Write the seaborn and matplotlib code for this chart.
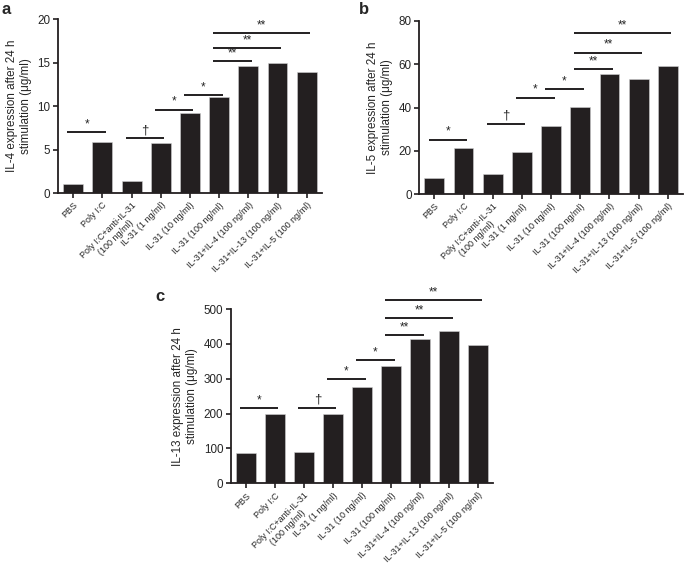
import matplotlib
matplotlib.use("Agg")
import matplotlib.pyplot as plt
import seaborn as sns
import pandas as pd

sns.set_style("ticks")
plt.rcParams['font.family'] = ['Liberation Sans', 'DejaVu Sans']

categories = ["PBS", "Poly I:C", "Poly I:C+anti-IL-31\n(100 ng/ml)", "IL-31 (1 ng/ml)",
              "IL-31 (10 ng/ml)", "IL-31 (100 ng/ml)", "IL-31+IL-4 (100 ng/ml)",
              "IL-31+IL-13 (100 ng/ml)", "IL-31+IL-5 (100 ng/ml)"]

il4_values = [1.0, 5.9, 1.4, 5.8, 9.2, 11.0, 14.6, 15.0, 13.9]
il5_values = [7.5, 21.3, 9.5, 19.5, 31.5, 40.2, 55.3, 53.0, 59.1]
il13_values = [86, 200, 90, 198, 277, 338, 415, 438, 398]

# comparisons: (bar i, bar j, label)
comparisons = [(0, 1, "*"), (2, 3, "\u2020"), (3, 4, "*"), (4, 5, "*"),
               (5, 6, "**"), (5, 7, "**"), (5, 8, "**")]
il4_sig_heights = [7.0, 6.3, 9.6, 11.3, 15.2, 16.7, 18.4]
il5_sig_heights = [25.2, 32.6, 44.6, 48.7, 57.9, 65.4, 74.3]
il13_sig_heights = [217, 217, 300, 353, 426, 473, 526]

il4_yticks = [0, 5, 10, 15, 20]
il5_yticks = [0, 20, 40, 60, 80]
il13_yticks = [0, 100, 200, 300, 400, 500]

ylabels = ["IL-4 expression after 24 h\nstimulation (\u03bcg/ml)",
           "IL-5 expression after 24 h\nstimulation (\u03bcg/ml)",
           "IL-13 expression after 24 h\nstimulation (\u03bcg/ml)"]

BAR = "#231f20"

fig = plt.figure(figsize=(6.85, 5.66), dpi=100)
ax_a = fig.add_axes([0.0847, 0.659, 0.3853, 0.307])
ax_b = fig.add_axes([0.612, 0.657, 0.385, 0.306])
ax_c = fig.add_axes([0.337, 0.146, 0.383, 0.308])

panels = [
    (ax_a, il4_values, il4_sig_heights, il4_yticks, ylabels[0], "a", (2 / 685, 1 - 10 / 566)),
    (ax_b, il5_values, il5_sig_heights, il5_yticks, ylabels[1], "b", (359 / 685, 1 - 10 / 566)),
    (ax_c, il13_values, il13_sig_heights, il13_yticks, ylabels[2], "c", (155 / 685, 1 - 296 / 566)),
]

for ax, vals, heights, yticks, ylab, letter, lpos in panels:
    df = pd.DataFrame({"cond": categories, "val": vals})
    sns.barplot(data=df, x="cond", y="val", color=BAR, saturation=1, width=0.68,
                edgecolor="#d0d0d0", linewidth=0.4, ax=ax)
    ax.set_xlim(-0.52, len(categories) - 0.48)
    ax.set_ylim(yticks[0], yticks[-1])
    ax.set_yticks(yticks)
    ax.set_xlabel("")
    ax.set_ylabel(ylab, fontsize=8.4, labelpad=4)
    sns.despine(ax=ax)
    for s in ["left", "bottom"]:
        ax.spines[s].set_linewidth(1.3)
        ax.spines[s].set_color("#231f20")
    ax.tick_params(axis="both", direction="out", length=3.5, width=1.2, color="#231f20")
    ax.tick_params(axis="y", labelsize=8.4, pad=2)
    ax.set_xticks(range(len(categories)))
    ax.set_xticklabels(categories, rotation=45, ha="right", rotation_mode="anchor",
                       fontsize=6.5, multialignment="center")
    ax.tick_params(axis="x", pad=2)
    for (i, j, lab), h in zip(comparisons, heights):
        x1, x2 = i - 0.2, j + 0.12
        ax.plot([x1, x2], [h, h], color="#231f20", lw=1.4, clip_on=False,
                solid_capstyle="butt")
        yr = yticks[-1] - yticks[0]
        ax.text((x1 + x2) / 2, h + yr * 0.01, lab, ha="center", va="bottom",
                fontsize=8.5 if lab != "\u2020" else 9.5, clip_on=False)
    fig.text(lpos[0], lpos[1], letter, fontsize=12, fontweight="bold", va="center", ha="left")

fig.savefig("out.png", dpi=100)
